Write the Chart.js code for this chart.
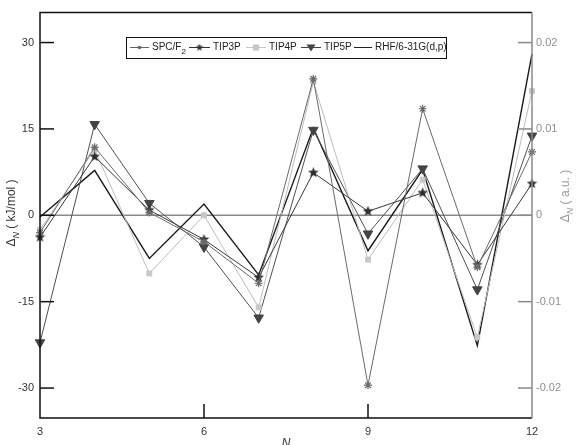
<!DOCTYPE html>
<html>
<head>
<meta charset="utf-8">
<script src="https://cdn.jsdelivr.net/npm/chart.js@4.4.0/dist/chart.umd.min.js"></script>
<style>
  body { margin: 0; background: #fff; }
  #wrap { width: 576px; height: 445px; }
</style>
</head>
<body>
<div id="wrap"><canvas id="myChart" width="576" height="445"></canvas></div>
<script>
// cluster size N
const nValues = [3, 4, 5, 6, 7, 8, 9, 10, 11, 12];
// Delta_N in kJ/mol (left axis)
const spcf2 = [-3.0, 11.8, 0.5, -4.6, -11.8, 23.7, -29.5, 18.5, -9.0, 11.0];
const tip3p = [-3.8, 10.2, 0.9, -4.2, -10.8, 7.4, 0.7, 3.9, -8.6, 5.5];
const tip4p = [-2.5, 11.4, -10.1, 0.0, -16.0, 23.2, -7.7, 6.2, -21.2, 21.6];
const tip5p = [-22.1, 15.8, 2.1, -5.5, -17.8, 14.8, -3.2, 8.1, -12.9, 13.8];
// Delta_N in a.u. (right axis)
const rhf = [-0.0002, 0.0052, -0.0050, 0.0013, -0.0069, 0.0101, -0.0041, 0.0053, -0.0151, 0.0187];

const leftTicks = [-30, -15, 0, 15, 30];
const rightTicks = [-0.02, -0.01, 0, 0.01, 0.02];
const xTicks = [3, 6, 9, 12];

function pts(arr) {
    return nValues.map((n, i) => ({ x: n, y: arr[i] }));
}

// filled five point star for TIP3P
function starImage(size, color) {
    const c = document.createElement('canvas');
    c.width = size; c.height = size;
    const g = c.getContext('2d');
    const r1 = size / 2, r2 = size / 4.6;
    g.beginPath();
    for (let k = 0; k < 10; k++) {
        const r = k % 2 ? r2 : r1;
        const a = -Math.PI / 2 + k * Math.PI / 5;
        g.lineTo(size / 2 + r * Math.cos(a), size / 2 + r * Math.sin(a));
    }
    g.closePath();
    g.fillStyle = color;
    g.fill();
    return c;
}
const star3 = starImage(11, '#2e2e2e');

// frame, inward ticks, zero line, axis titles and legend box
const decor = {
    id: 'decor',
    beforeDatasetsDraw(chart) {
        const ctx = chart.ctx, a = chart.chartArea;
        const y0 = chart.scales.y.getPixelForValue(0);
        ctx.save();
        ctx.strokeStyle = '#8a8a8a';
        ctx.lineWidth = 1.5;
        ctx.beginPath();
        ctx.moveTo(a.left, y0); ctx.lineTo(a.right, y0);
        ctx.stroke();
        ctx.restore();
    },
    afterDraw(chart) {
        const ctx = chart.ctx, a = chart.chartArea;
        const sx = chart.scales.x, sy = chart.scales.y, sy1 = chart.scales.y1;
        ctx.save();
        ctx.lineWidth = 1.5;
        // black frame: left, top, bottom
        ctx.strokeStyle = '#111';
        ctx.beginPath();
        ctx.moveTo(a.right, a.top); ctx.lineTo(a.left, a.top);
        ctx.lineTo(a.left, a.bottom); ctx.lineTo(a.right, a.bottom);
        ctx.stroke();
        // left ticks
        leftTicks.forEach(v => {
            const y = sy.getPixelForValue(v);
            ctx.beginPath(); ctx.moveTo(a.left, y); ctx.lineTo(a.left + 14, y); ctx.stroke();
        });
        // bottom ticks
        [6, 9].forEach(v => {
            const x = sx.getPixelForValue(v);
            ctx.beginPath(); ctx.moveTo(x, a.bottom); ctx.lineTo(x, a.bottom - 14); ctx.stroke();
        });
        // right axis in grey
        ctx.strokeStyle = '#8a8a8a';
        ctx.beginPath(); ctx.moveTo(a.right, a.top); ctx.lineTo(a.right, a.bottom); ctx.stroke();
        rightTicks.forEach(v => {
            const y = sy1.getPixelForValue(v);
            ctx.beginPath(); ctx.moveTo(a.right, y); ctx.lineTo(a.right - 14, y); ctx.stroke();
        });

        // axis titles
        function deltaTitle(x, y, unit, color) {
            ctx.save();
            ctx.translate(x, y);
            ctx.rotate(-Math.PI / 2);
            ctx.fillStyle = color;
            ctx.textBaseline = 'middle';
            ctx.textAlign = 'left';
            const big = '12px "Liberation Sans", Arial, sans-serif';
            const small = 'italic 9px "Liberation Sans", Arial, sans-serif';
            ctx.font = big;
            const w1 = ctx.measureText('\u0394').width;
            ctx.font = small;
            const w2 = ctx.measureText('N').width;
            ctx.font = big;
            const w3 = ctx.measureText(unit).width;
            let cx = -(w1 + w2 + w3) / 2;
            ctx.fillText('\u0394', cx, 0); cx += w1;
            ctx.font = small; ctx.fillText('N', cx, 4); cx += w2;
            ctx.font = big; ctx.fillText(unit, cx, 0);
            ctx.restore();
        }
        deltaTitle(12, 213, ' ( kJ/mol )', '#333');
        deltaTitle(566, 196, ' ( a.u. )', '#9a9a9a');

        ctx.fillStyle = '#333';
        ctx.font = 'italic 12px "Liberation Sans", Arial, sans-serif';
        ctx.textAlign = 'center';
        ctx.textBaseline = 'middle';
        ctx.fillText('N', (a.left + a.right) / 2, 444);

        // legend
        const top = 37, bot = 58, mid = (top + bot) / 2;
        ctx.strokeStyle = '#111';
        ctx.lineWidth = 1;
        ctx.strokeRect(126.5, top + 0.5, 320, bot - top);
        const items = [
            { x0: 130, x1: 149, color: '#666', mark: 'dot', text: 'SPC/F', sub: '2' },
            { x0: 189, x1: 210, color: '#333', mark: 'star', text: 'TIP3P' },
            { x0: 246, x1: 266, color: '#c4c4c4', mark: 'square', text: 'TIP4P' },
            { x0: 301, x1: 321, color: '#444', mark: 'tri', text: 'TIP5P' },
            { x0: 354, x1: 372, color: '#222', mark: null, text: 'RHF/6-31G(d,p)' }
        ];
        ctx.font = '10px "Liberation Sans", Arial, sans-serif';
        ctx.textAlign = 'left';
        items.forEach(it => {
            ctx.strokeStyle = it.color;
            ctx.lineWidth = 1;
            ctx.beginPath(); ctx.moveTo(it.x0, mid); ctx.lineTo(it.x1, mid); ctx.stroke();
            const cx = (it.x0 + it.x1) / 2;
            ctx.fillStyle = it.color;
            if (it.mark === 'dot') {
                ctx.beginPath(); ctx.arc(cx, mid, 1.8, 0, Math.PI * 2); ctx.fill();
            } else if (it.mark === 'star') {
                ctx.drawImage(starImage(8, it.color), cx - 4, mid - 4);
            } else if (it.mark === 'square') {
                ctx.fillRect(cx - 3, mid - 3, 6, 6);
            } else if (it.mark === 'tri') {
                ctx.beginPath();
                ctx.moveTo(cx - 4.5, mid - 3); ctx.lineTo(cx + 4.5, mid - 3); ctx.lineTo(cx, mid + 4);
                ctx.closePath(); ctx.fill();
            }
            ctx.fillStyle = '#222';
            ctx.fillText(it.text, it.x1 + 3, mid);
            if (it.sub) {
                const w = ctx.measureText(it.text).width;
                ctx.font = '8px "Liberation Sans", Arial, sans-serif';
                ctx.fillText(it.sub, it.x1 + 3 + w, mid + 4);
                ctx.font = '10px "Liberation Sans", Arial, sans-serif';
            }
        });
        ctx.restore();
    }
};

new Chart(document.getElementById('myChart'), {
    type: 'line',
    data: {
        datasets: [
            {
                label: 'SPC/F2',
                data: pts(spcf2),
                borderColor: '#6a6a6a',
                borderWidth: 1,
                pointStyle: 'star',
                pointRadius: 4,
                pointBorderColor: '#6a6a6a',
                pointBorderWidth: 1.2,
                clip: false,
                yAxisID: 'y'
            },
            {
                label: 'TIP3P',
                data: pts(tip3p),
                borderColor: '#383838',
                borderWidth: 1,
                pointStyle: star3,
                clip: false,
                yAxisID: 'y'
            },
            {
                label: 'TIP4P',
                data: pts(tip4p),
                borderColor: '#bdbdbd',
                borderWidth: 1,
                pointStyle: 'rect',
                pointRadius: 3.5,
                pointBackgroundColor: '#c8c8c8',
                pointBorderColor: '#c8c8c8',
                clip: false,
                yAxisID: 'y'
            },
            {
                label: 'TIP5P',
                data: pts(tip5p),
                borderColor: '#505050',
                borderWidth: 1,
                pointStyle: 'triangle',
                pointRotation: 180,
                pointRadius: 5.5,
                pointBackgroundColor: '#444',
                pointBorderColor: '#444',
                clip: false,
                yAxisID: 'y'
            },
            {
                label: 'RHF/6-31G(d,p)',
                data: pts(rhf),
                borderColor: '#1a1a1a',
                borderWidth: 1.4,
                pointRadius: 0,
                clip: false,
                yAxisID: 'y1'
            }
        ]
    },
    options: {
        responsive: false,
        animation: false,
        layout: { padding: { top: 8, left: 0, right: 0, bottom: 0 } },
        plugins: {
            legend: { display: false },
            tooltip: { enabled: false }
        },
        elements: { line: { tension: 0 } },
        scales: {
            x: {
                type: 'linear',
                min: 3, max: 12,
                grid: { display: false, drawTicks: false },
                border: { display: false },
                afterBuildTicks: s => { s.ticks = xTicks.map(v => ({ value: v })); },
                afterFit: s => { s.height = 27; },
                ticks: { color: '#333', padding: 7, font: { size: 11, family: '"Liberation Sans", Arial' } }
            },
            y: {
                position: 'left',
                min: -35.2, max: 35.2,
                grid: { display: false, drawTicks: false },
                border: { display: false },
                afterBuildTicks: s => { s.ticks = leftTicks.map(v => ({ value: v })); },
                afterFit: s => { s.width = 40; },
                ticks: { color: '#333', padding: 6, font: { size: 11, family: '"Liberation Sans", Arial' } }
            },
            y1: {
                position: 'right',
                min: -0.02347, max: 0.02347,
                grid: { display: false, drawTicks: false },
                border: { display: false },
                afterBuildTicks: s => { s.ticks = rightTicks.map(v => ({ value: v })); },
                afterFit: s => { s.width = 44; },
                ticks: {
                    color: '#8f8f8f', padding: 4,
                    font: { size: 11, family: '"Liberation Sans", Arial' },
                    callback: v => v === 0 ? '0' : v.toFixed(2)
                }
            }
        }
    },
    plugins: [decor]
});
</script>
</body>
</html>
